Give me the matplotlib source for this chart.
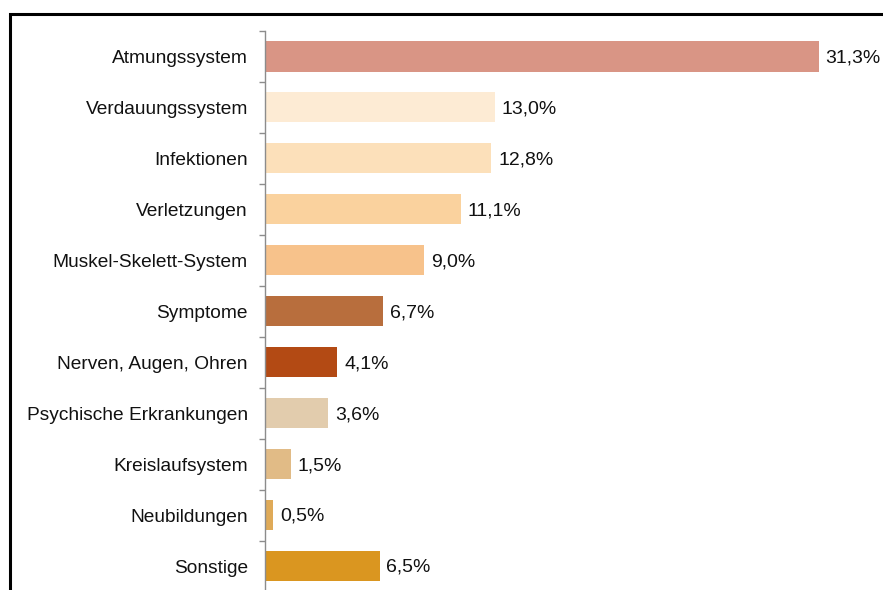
import matplotlib
matplotlib.use("Agg")
import matplotlib.pyplot as plt
from matplotlib.lines import Line2D
import numpy as np

plt.rcParams['font.family'] = ['Liberation Sans', 'DejaVu Sans']

categories = ["Atmungssystem", "Verdauungssystem", "Infektionen", "Verletzungen",
              "Muskel-Skelett-System", "Symptome", "Nerven, Augen, Ohren",
              "Psychische Erkrankungen", "Kreislaufsystem", "Neubildungen", "Sonstige"]
shares = [31.3, 13.0, 12.8, 11.1, 9.0, 6.7, 4.1, 3.6, 1.5, 0.5, 6.5]
value_labels = ["31,3%", "13,0%", "12,8%", "11,1%", "9,0%", "6,7%", "4,1%",
                "3,6%", "1,5%", "0,5%", "6,5%"]
colors = ["#D99585", "#FDEBD4", "#FCE0BA", "#FAD29E", "#F7C28B", "#B86E3D",
          "#B34A14", "#E2CCAD", "#E1BB86", "#DFAA58", "#DA9620"]

W, H = 883, 590
fig = plt.figure(figsize=(W / 100, H / 100), dpi=100)

# axes placement in pixels
ax_left, ax_top, ax_bottom = 264.5, 31, 591.5
ax = fig.add_axes([ax_left / W, 1 - ax_bottom / H, (W - ax_left) / W,
                   (ax_bottom - ax_top) / H])

n = len(categories)
y = np.arange(n)
ax.barh(y, shares, height=0.59, color=colors, edgecolor='none')
ax.set_ylim(n - 0.5, -0.5)
ax.set_xlim(0, (W - ax_left) / 17.7)

ax.set_yticks(y)
ax.set_yticklabels(categories, fontsize=13.8, color='#111111')
ax.tick_params(axis='y', which='major', length=0, pad=12)
ax.set_yticks(np.arange(-0.5, n, 1.0), minor=True)
ax.tick_params(axis='y', which='minor', length=4, width=1, color='#8c8c8c')
ax.set_xticks([])

for s in ['top', 'right', 'bottom']:
    ax.spines[s].set_visible(False)
ax.spines['left'].set_color('#8c8c8c')
ax.spines['left'].set_linewidth(1)

for yi, v, lab in zip(y, shares, value_labels):
    ax.annotate(lab, (v, yi), xytext=(5, -1), textcoords='offset points',
                va='center', ha='left', fontsize=14, color='#111111')

# outer frame
fig.add_artist(Line2D([9.5 / W, 9.5 / W, 1.0], [0, 1 - 13.5 / H, 1 - 13.5 / H],
                      transform=fig.transFigure, color='black', linewidth=2.2,
                      solid_joinstyle='miter'))

fig.savefig("out.png", dpi=100, facecolor='white')
